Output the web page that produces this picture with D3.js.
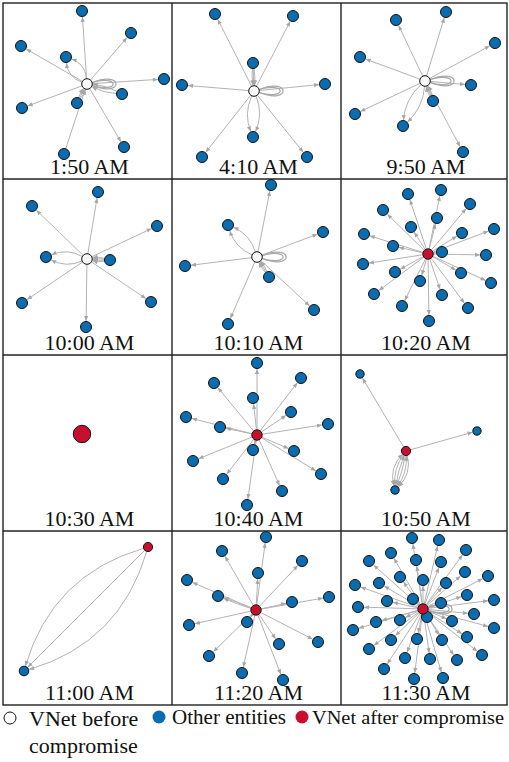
<!DOCTYPE html>
<html>
<head>
<meta charset="utf-8">
<script src="https://cdn.jsdelivr.net/npm/d3@7"></script>
<style>
  body { margin: 0; background: #fff; }
  svg { display: block; }
  text { font-family: "Liberation Serif", "DejaVu Serif", serif; fill: #111; }
</style>
</head>
<body>
<svg id="chart"></svg>
<script>
// snapshot labels and the state of the VNet in each one
const times = ["1:50 AM", "4:10 AM", "9:50 AM", "10:00 AM", "10:10 AM", "10:20 AM",
               "10:30 AM", "10:40 AM", "10:50 AM", "11:00 AM", "11:20 AM", "11:30 AM"];
const vnetState = ["before", "before", "before", "before", "before", "after",
                   "after", "after", "after", "after", "after", "after"];

// VNet (hub) position inside each panel, in panel units
const hubs = [[84, 81], [82, 88], [84, 78], [84, 80], [85, 78], [87, 75],
              [79, 79], [85, 80], [65, 96], [145, 16], [84, 79], [82, 78]];
// hub has a self flow (loop)
const selfLoops = [1, 1, 1, 0, 1, 0, 0, 0, 0, 0, 0, 1];

// other entities: [x, y, direction, number of flows, spread of the flows]
const peers0150 = [[79, 8, "out"], [128, 30, "out"], [18, 43, "out"], [63, 54, "out", 2, 11],
  [161, 76, "out"], [119, 91, "in", 2, 4], [74, 100, "in", 3, 2], [19, 105, "out"],
  [121, 144, "out"], [61, 151, "in"]];
const peers0410 = [[43, 11, "out"], [121, 13, "out"], [10, 82, "out"], [81, 60, "in", 3, 2],
  [153, 81, "out"], [81, 134, "out", 2, 10], [30, 154, "out"], [135, 154, "out"]];
const peers0950 = [[105, 9, "out"], [55, 17, "out"], [154, 40, "out"], [19, 54, "out"],
  [130, 82, "out"], [92, 98, "in", 3, 2], [14, 111, "out"], [62, 123, "out", 2, 10],
  [122, 149, "out"]];
const peers1000 = [[95, 13, "out"], [29, 27, "out"], [154, 47, "out"], [43, 78, "out", 2, 10],
  [107, 81, "in", 4, 3], [19, 124, "out"], [148, 123, "out"], [83, 148, "out"]];
const peers1010 = [[99, 6, "out"], [56, 46, "out", 2, 10], [151, 53, "out"], [13, 87, "out"],
  [97, 98, "in", 3, 2], [56, 145, "out"], [142, 131, "out"]];
const peers1020 = [[67, 15, "out"], [100, 11, "out"], [129, 25, "out"], [42, 31, "out"],
  [96, 39, "out"], [70, 48, "out"], [23, 55, "out"], [121, 54, "out"], [153, 50, "out"],
  [52, 67, "out"], [101, 73, "out"], [22, 85, "out"], [145, 76, "out"], [54, 93, "out"],
  [120, 94, "out"], [79, 102, "out"], [150, 104, "out"], [33, 115, "out"], [101, 116, "out"],
  [61, 127, "out"], [127, 129, "out"], [88, 142, "out"]];
const peers1030 = [];
const peers1040 = [[85, 8, "out"], [42, 28, "out"], [129, 23, "out"], [81, 43, "out"],
  [14, 62, "out"], [48, 72, "out"], [119, 57, "out"], [156, 69, "out"], [21, 106, "out"],
  [81, 95, "out"], [122, 96, "out"], [51, 124, "out"], [149, 119, "out"], [75, 150, "out"],
  [110, 136, "out"]];
const peers1050 = [[19, 19, "out"], [136, 76, "out"], [54, 135, "both", 6, 12]];
const peers1100 = [[21, 140, "out", 3, 48]];
const peers1120 = [[94, 6, "out"], [50, 20, "out"], [130, 30, "out"], [86, 42, "out"],
  [15, 49, "out"], [46, 65, "out", 2, 1], [120, 71, "out"], [157, 66, "out"], [17, 94, "out"],
  [75, 91, "out"], [107, 113, "out"], [146, 111, "out"], [37, 125, "out"], [70, 142, "out"],
  [111, 149, "out"]];
const peers1130 = [[71, 7, "out"], [98, 9, "out"], [50, 22, "out"], [125, 19, "out"],
  [28, 30, "out"], [75, 29, "out"], [100, 31, "out"], [59, 46, "out"], [82, 49, "out"],
  [105, 52, "out"], [124, 41, "out"], [147, 45, "out"], [14, 54, "out"], [38, 52, "out"],
  [46, 70, "out"], [72, 68, "out"], [100, 72, "out"], [126, 64, "out"], [153, 69, "out"],
  [17, 76, "out"], [133, 83, "out"], [86, 86, "out"], [12, 99, "out"], [35, 91, "out"],
  [59, 89, "out"], [111, 90, "out"], [153, 97, "out"], [50, 109, "out"], [76, 108, "out"],
  [101, 109, "out"], [126, 106, "out"], [28, 118, "out"], [64, 127, "out"], [89, 128, "out"],
  [116, 129, "out"], [141, 124, "out"], [43, 138, "out"], [73, 148, "out"], [102, 147, "out"]];
const peers = [peers0150, peers0410, peers0950, peers1000, peers1010, peers1020,
               peers1030, peers1040, peers1050, peers1100, peers1120, peers1130];

const legendItems = ["VNet before compromise", "Other entities", "VNet after compromise"];

// layout
const W = 509, H = 762;
const colEdges = [3, 172, 341, 507];
const rowEdges = [3, 179, 355, 531, 705];
const fills = { before: "#f7f7f7", after: "#c8102e", other: "#0b6cb0" };
const peerR = [5.5, 5.5, 5.5, 5.5, 5.5, 5.5, 5.5, 5.5, 4.2, 4.8, 5.5, 5.5];
const hubR = [5.3, 5.3, 5.3, 5.3, 5.3, 5.2, 8.7, 5.2, 4.6, 4.6, 5.2, 5.2];
const edgeColor = "#b3b3b3";

const svg = d3.select("#chart").attr("width", W).attr("height", H);
svg.append("rect").attr("width", W).attr("height", H).attr("fill", "#fff");

svg.append("defs").append("marker")
  .attr("id", "arrow")
  .attr("viewBox", "0 -3 6 6")
  .attr("refX", 6).attr("refY", 0)
  .attr("markerWidth", 6).attr("markerHeight", 5)
  .attr("markerUnits", "userSpaceOnUse")
  .attr("orient", "auto-start-reverse")
  .append("path").attr("d", "M0,-2.5L6,0L0,2.5Z").attr("fill", "#a6a6a6");

// move p towards c by r
function trim(p, c, r) {
  const dx = c[0] - p[0], dy = c[1] - p[1], l = Math.hypot(dx, dy) || 1;
  return [p[0] + dx / l * r, p[1] + dy / l * r];
}

function edgePath(a, b, bend, ra, rb) {
  const dx = b[0] - a[0], dy = b[1] - a[1], len = Math.hypot(dx, dy);
  const c = [(a[0] + b[0]) / 2 - dy / len * bend, (a[1] + b[1]) / 2 + dx / len * bend];
  const s = trim(a, c, ra), e = trim(b, c, rb);
  const p = d3.path();
  p.moveTo(s[0], s[1]);
  p.quadraticCurveTo(c[0], c[1], e[0], e[1]);
  return p.toString();
}

function loopPath(h, r, L, hh) {
  const p = d3.path();
  p.moveTo(h[0] + r, h[1] - 1.5);
  p.bezierCurveTo(h[0] + L, h[1] - hh, h[0] + L, h[1] + hh, h[0] + r, h[1] + 1.5);
  return p.toString();
}

times.forEach((label, i) => {
  const col = i % 3, row = Math.floor(i / 3);
  const x = d3.scaleLinear().domain([0, 169]).range([colEdges[col], colEdges[col] + 169]);
  const y = d3.scaleLinear().domain([0, 176]).range([rowEdges[row], rowEdges[row] + 176]);
  const g = svg.append("g");

  const hub = [x(hubs[i][0]), y(hubs[i][1])];
  const edges = [];
  peers[i].forEach(([px, py, dir, n = 1, spread = 0]) => {
    const node = [x(px), y(py)];
    for (let k = 0; k < n; k++) {
      const bend = n === 1 ? 0 : -spread + 2 * spread * k / (n - 1);
      if (dir === "in") edges.push({ a: node, b: hub, bend, ra: peerR[i], rb: hubR[i] + 0.5, both: false });
      else edges.push({ a: hub, b: node, bend, ra: hubR[i], rb: peerR[i] + 0.5, both: dir === "both" && k % 2 === 1 });
    }
  });

  g.selectAll("path.edge").data(edges).join("path")
    .attr("class", "edge")
    .attr("d", d => edgePath(d.a, d.b, d.bend, d.ra, d.rb))
    .attr("fill", "none")
    .attr("stroke", edgeColor)
    .attr("stroke-width", 1)
    .attr("marker-end", "url(#arrow)")
    .attr("marker-start", d => d.both ? "url(#arrow)" : null);

  if (selfLoops[i]) {
    g.selectAll("path.loop").data([[37, 14], [33, 10]]).join("path")
      .attr("class", "loop")
      .attr("d", d => loopPath(hub, hubR[i], d[0], d[1]))
      .attr("fill", "none")
      .attr("stroke", "#a9a9a9")
      .attr("stroke-width", 1.2);
  }

  g.selectAll("circle.peer").data(peers[i]).join("circle")
    .attr("class", "peer")
    .attr("cx", d => x(d[0]))
    .attr("cy", d => y(d[1]))
    .attr("r", peerR[i])
    .attr("fill", fills.other)
    .attr("stroke", "#111")
    .attr("stroke-width", 1);

  g.append("circle")
    .attr("cx", hub[0]).attr("cy", hub[1]).attr("r", hubR[i])
    .attr("fill", fills[vnetState[i]])
    .attr("stroke", "#111").attr("stroke-width", 1);

  g.append("text")
    .attr("x", (colEdges[col] + colEdges[col + 1]) / 2 + 2)
    .attr("y", rowEdges[row + 1] - 5)
    .attr("text-anchor", "middle")
    .attr("font-size", 22)
    .text(label);
});

// grid
const grid = svg.append("g").attr("stroke", "#222").attr("stroke-width", 1.4).attr("fill", "none");
grid.append("rect")
  .attr("x", colEdges[0]).attr("y", rowEdges[0])
  .attr("width", colEdges[3] - colEdges[0]).attr("height", rowEdges[4] - rowEdges[0]);
colEdges.slice(1, 3).forEach(cx => grid.append("line")
  .attr("x1", cx).attr("x2", cx).attr("y1", rowEdges[0]).attr("y2", rowEdges[4]));
rowEdges.slice(1, 4).forEach(ry => grid.append("line")
  .attr("x1", colEdges[0]).attr("x2", colEdges[3]).attr("y1", ry).attr("y2", ry));

// legend
const lg = svg.append("g");
lg.append("circle").attr("cx", 10).attr("cy", 718).attr("r", 6)
  .attr("fill", "#fff").attr("stroke", "#111").attr("stroke-width", 1);
lg.append("text").attr("x", 29).attr("y", 726).attr("font-size", 22).text("VNet before");
lg.append("text").attr("x", 29).attr("y", 753).attr("font-size", 22).text("compromise");
lg.append("circle").attr("cx", 159).attr("cy", 717).attr("r", 6.5).attr("fill", fills.other);
lg.append("text").attr("x", 172).attr("y", 724).attr("font-size", 21)
  .attr("textLength", 114).attr("lengthAdjust", "spacingAndGlyphs").text(legendItems[1]);
lg.append("circle").attr("cx", 302).attr("cy", 717).attr("r", 6.5).attr("fill", fills.after);
lg.append("text").attr("x", 312).attr("y", 724).attr("font-size", 19.5)
  .attr("textLength", 192).attr("lengthAdjust", "spacingAndGlyphs").text(legendItems[2]);
</script>
</body>
</html>
